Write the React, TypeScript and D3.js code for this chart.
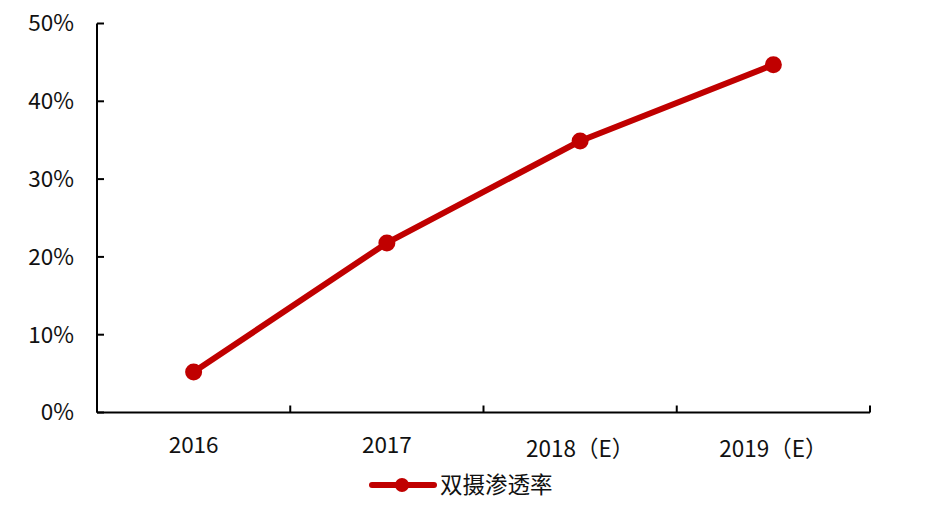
import React from "react";
import * as d3 from "d3";

const categories = ["2016", "2017", "2018（E）", "2019（E）"];
const values = [0.052, 0.218, 0.349, 0.447];
const yTicks = [0, 0.1, 0.2, 0.3, 0.4, 0.5];
const seriesName = "双摄渗透率";

const W = 934, H = 514;
const left = 97, right = 870, top = 23.5, bottom = 412.5;
const red = "#C00000";
const font = "'Noto Sans CJK SC', 'DejaVu Sans', sans-serif";
const fs = 22.5;

export default function App() {
  const x = d3.scaleBand<string>().domain(categories).range([left, right]);
  const y = d3.scaleLinear().domain([0, 0.5]).range([bottom, top]);
  const cx = (i: number) => (x(categories[i]) as number) + x.bandwidth() / 2;
  const line = d3
    .line<number>()
    .x((_, i) => cx(i))
    .y((d) => y(d));
  const fmt = d3.format(".0%");
  const boundaries = [...categories.map((c) => x(c) as number), right];
  return (
    <svg width={W} height={H} style={{ position: "absolute", left: 0, top: 0, background: "#fff" }}>
      {/* y axis */}
      <line x1={left} x2={left} y1={top} y2={bottom} stroke="#000" strokeWidth={2} />
      {yTicks.map((t) => (
        <g key={t}>
          <line x1={left} x2={left + 7} y1={y(t)} y2={y(t)} stroke="#000" strokeWidth={2} />
          <text x={74} y={y(t)} dy="0.35em" textAnchor="end" fontSize={fs} fontFamily={font} fill="#111">
            {fmt(t)}
          </text>
        </g>
      ))}
      {/* x axis */}
      <line x1={left} x2={right} y1={bottom} y2={bottom} stroke="#000" strokeWidth={2} />
      {boundaries.map((b, i) => (
        <line key={i} x1={b} x2={b} y1={bottom} y2={bottom - 7} stroke="#000" strokeWidth={2} />
      ))}
      {categories.map((c, i) => (
        <text
          key={c}
          x={cx(i)}
          y={c.includes("（") ? 457 : 453}
          textAnchor="middle"
          fontSize={fs}
          fontFamily={font}
          fill="#111"
        >
          {c}
        </text>
      ))}
      {/* series */}
      <path d={line(values) || ""} fill="none" stroke={red} strokeWidth={6} strokeLinejoin="round" />
      {values.map((v, i) => (
        <circle key={i} cx={cx(i)} cy={y(v)} r={8.5} fill={red} />
      ))}
      {/* legend */}
      <line x1={372} x2={434} y1={485} y2={485} stroke={red} strokeWidth={6} strokeLinecap="round" />
      <circle cx={402} cy={485} r={7} fill={red} />
      <text x={440} y={485} dy="0.35em" fontSize={fs} fontFamily={font} fill="#111">
        {seriesName}
      </text>
    </svg>
  );
}
